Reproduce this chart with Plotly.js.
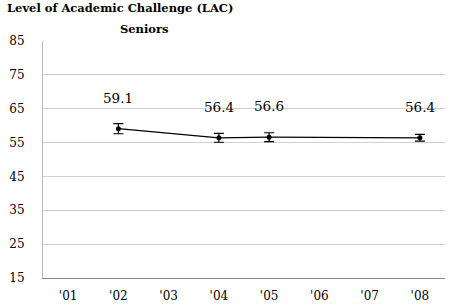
<!DOCTYPE html>
<html><head><meta charset="utf-8">
<script src="https://cdn.plot.ly/plotly-3.0.1.min.js"></script>
<style>html,body{margin:0;padding:0;background:#fff}#chart{width:450px;height:305px}</style>
</head><body><div id="chart"></div>
<script>
var years = ["'01","'02","'03","'04","'05","'06","'07","'08"];
var lac = [null, 59.1, null, 56.4, 56.6, null, null, 56.4];
var errs = [null, 1.5, null, 1.3, 1.3, null, null, 1.0];
var yTicks = [15, 25, 35, 45, 55, 65, 75, 85];
var titleMain = "Level of Academic Challenge (LAC)";
var titleSub = "Seniors";

var serif = "'DejaVu Serif', serif";
var annotations = [];
for (var i = 0; i < years.length; i++) {
  if (lac[i] !== null) {
    annotations.push({x: years[i], y: lac[i], xref: 'x', yref: 'y', text: lac[i].toFixed(1),
      showarrow: false, yshift: 31, font: {family: serif, size: 13.5, color: '#000'}});
  }
}
annotations.push({xref: 'paper', yref: 'paper', x: -0.095, y: 1.0, yshift: 24, xanchor: 'left', yanchor: 'bottom',
  text: '<b>' + titleMain + '</b>', showarrow: false, font: {family: serif, size: 11.5, color: '#000'}});
annotations.push({xref: 'paper', yref: 'paper', x: 0.253, y: 1.0, yshift: 3, xanchor: 'center', yanchor: 'bottom',
  text: '<b>' + titleSub + '</b>', showarrow: false, font: {family: serif, size: 11.5, color: '#000'}});

var trace = {
  x: years, y: lac, type: 'scatter', mode: 'lines+markers', connectgaps: true,
  line: {color: '#000', width: 1.2},
  marker: {color: '#000', size: 5},
  error_y: {type: 'data', array: errs, visible: true, color: '#000', thickness: 1.2, width: 5},
  hoverinfo: 'none'
};
var layout = {
  width: 450, height: 305,
  margin: {l: 43, r: 5, t: 41, b: 27},
  paper_bgcolor: '#fff', plot_bgcolor: '#fff',
  showlegend: false,
  xaxis: {type: 'category', categoryarray: years, range: [-0.5, 7.5], showgrid: false,
    showline: true, linecolor: '#888', linewidth: 1, ticks: '', ticklabelstandoff: 7,
    tickfont: {family: serif, size: 12, color: '#000'}, zeroline: false},
  yaxis: {range: [15, 85], tickvals: yTicks, showgrid: true, gridcolor: '#d0d0d0', gridwidth: 1,
    showline: true, linecolor: '#bbb', linewidth: 1, ticks: '', ticklabelstandoff: 15,
    tickfont: {family: serif, size: 12, color: '#000'}, zeroline: false},
  annotations: annotations
};
Plotly.newPlot('chart', [trace], layout, {staticPlot: true, displayModeBar: false});
</script></body></html>
